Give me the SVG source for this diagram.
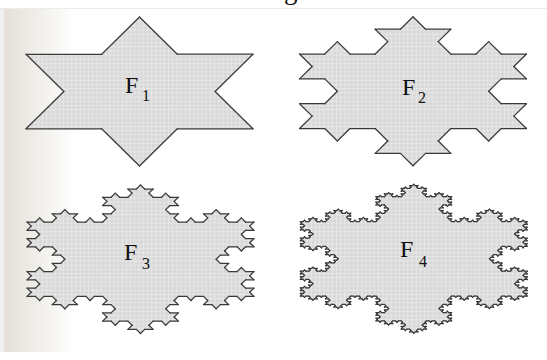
<svg xmlns="http://www.w3.org/2000/svg" xmlns:xlink="http://www.w3.org/1999/xlink" width="547" height="360" viewBox="0 0 547 360">
  <style>
    .seg { fill: none; stroke: #3a3a3a; stroke-width: 1.25; stroke-linecap: round; vector-effect: non-scaling-stroke; }
    .lbl { font-family: "Liberation Serif", "Times New Roman", serif; fill: #0e0e0e; }
    .big { font-size: 24px; }
    .sub { font-size: 16px; }
  </style>
  <defs>
    <linearGradient id="edge" x1="0" y1="0" x2="1" y2="0">
      <stop offset="0" stop-color="#e4e0d7"/>
      <stop offset="1" stop-color="#ffffff"/>
    </linearGradient>
    <pattern id="grid" width="4.2" height="4.2" patternUnits="userSpaceOnUse">
      <rect width="4.2" height="4.2" fill="#d8d8d8"/>
      <path d="M0 0.5H4.2M0.5 0V4.2" stroke="#e7e7e7" stroke-width="1"/>
    </pattern>

    <!-- Koch curve outlines on the unit edge (0,0)-(1,0), bumps toward -y -->
    <path id="k0" class="seg" d="M0 0H1"/>
    <g id="k1">
      <use xlink:href="#k0" transform="scale(0.3333333)"/>
      <use xlink:href="#k0" transform="translate(0.3333333 0) rotate(-60) scale(0.3333333)"/>
      <use xlink:href="#k0" transform="translate(0.5 -0.2886751) rotate(60) scale(0.3333333)"/>
      <use xlink:href="#k0" transform="translate(0.6666667 0) scale(0.3333333)"/>
    </g>
    <g id="k2">
      <use xlink:href="#k1" transform="scale(0.3333333)"/>
      <use xlink:href="#k1" transform="translate(0.3333333 0) rotate(-60) scale(0.3333333)"/>
      <use xlink:href="#k1" transform="translate(0.5 -0.2886751) rotate(60) scale(0.3333333)"/>
      <use xlink:href="#k1" transform="translate(0.6666667 0) scale(0.3333333)"/>
    </g>
    <g id="k3">
      <use xlink:href="#k2" transform="scale(0.3333333)"/>
      <use xlink:href="#k2" transform="translate(0.3333333 0) rotate(-60) scale(0.3333333)"/>
      <use xlink:href="#k2" transform="translate(0.5 -0.2886751) rotate(60) scale(0.3333333)"/>
      <use xlink:href="#k2" transform="translate(0.6666667 0) scale(0.3333333)"/>
    </g>
    <g id="k4">
      <use xlink:href="#k3" transform="scale(0.3333333)"/>
      <use xlink:href="#k3" transform="translate(0.3333333 0) rotate(-60) scale(0.3333333)"/>
      <use xlink:href="#k3" transform="translate(0.5 -0.2886751) rotate(60) scale(0.3333333)"/>
      <use xlink:href="#k3" transform="translate(0.6666667 0) scale(0.3333333)"/>
    </g>

    <!-- Filled bumps added outside the unit edge; each reaches a little inward to hide seams -->
    <polygon id="b1" fill="#fff" points="0.3333333,0 0.5,-0.2886751 0.6666667,0 0.5,0.09"/>
    <g id="b2">
      <use xlink:href="#b1"/>
      <use xlink:href="#b1" transform="scale(0.3333333)"/>
      <use xlink:href="#b1" transform="translate(0.3333333 0) rotate(-60) scale(0.3333333)"/>
      <use xlink:href="#b1" transform="translate(0.5 -0.2886751) rotate(60) scale(0.3333333)"/>
      <use xlink:href="#b1" transform="translate(0.6666667 0) scale(0.3333333)"/>
    </g>
    <g id="b3">
      <use xlink:href="#b1"/>
      <use xlink:href="#b2" transform="scale(0.3333333)"/>
      <use xlink:href="#b2" transform="translate(0.3333333 0) rotate(-60) scale(0.3333333)"/>
      <use xlink:href="#b2" transform="translate(0.5 -0.2886751) rotate(60) scale(0.3333333)"/>
      <use xlink:href="#b2" transform="translate(0.6666667 0) scale(0.3333333)"/>
    </g>
    <g id="b4">
      <use xlink:href="#b1"/>
      <use xlink:href="#b3" transform="scale(0.3333333)"/>
      <use xlink:href="#b3" transform="translate(0.3333333 0) rotate(-60) scale(0.3333333)"/>
      <use xlink:href="#b3" transform="translate(0.5 -0.2886751) rotate(60) scale(0.3333333)"/>
      <use xlink:href="#b3" transform="translate(0.6666667 0) scale(0.3333333)"/>
    </g>

    <!-- Base triangle (outer points on the unit circle) and its three edges -->
    <polygon id="tri" fill="#fff" points="0,-1 0.8660254,0.5 -0.8660254,0.5"/>

    <g id="fill1"><use xlink:href="#tri"/>
      <use xlink:href="#b1" transform="translate(0 -1) rotate(60) scale(1.7320508)"/>
      <use xlink:href="#b1" transform="translate(0.8660254 0.5) rotate(180) scale(1.7320508)"/>
      <use xlink:href="#b1" transform="translate(-0.8660254 0.5) rotate(-60) scale(1.7320508)"/>
    </g>
    <g id="fill2"><use xlink:href="#tri"/>
      <use xlink:href="#b2" transform="translate(0 -1) rotate(60) scale(1.7320508)"/>
      <use xlink:href="#b2" transform="translate(0.8660254 0.5) rotate(180) scale(1.7320508)"/>
      <use xlink:href="#b2" transform="translate(-0.8660254 0.5) rotate(-60) scale(1.7320508)"/>
    </g>
    <g id="fill3"><use xlink:href="#tri"/>
      <use xlink:href="#b3" transform="translate(0 -1) rotate(60) scale(1.7320508)"/>
      <use xlink:href="#b3" transform="translate(0.8660254 0.5) rotate(180) scale(1.7320508)"/>
      <use xlink:href="#b3" transform="translate(-0.8660254 0.5) rotate(-60) scale(1.7320508)"/>
    </g>
    <g id="fill4"><use xlink:href="#tri"/>
      <use xlink:href="#b4" transform="translate(0 -1) rotate(60) scale(1.7320508)"/>
      <use xlink:href="#b4" transform="translate(0.8660254 0.5) rotate(180) scale(1.7320508)"/>
      <use xlink:href="#b4" transform="translate(-0.8660254 0.5) rotate(-60) scale(1.7320508)"/>
    </g>

    <g id="line1">
      <use xlink:href="#k1" transform="translate(0 -1) rotate(60) scale(1.7320508)"/>
      <use xlink:href="#k1" transform="translate(0.8660254 0.5) rotate(180) scale(1.7320508)"/>
      <use xlink:href="#k1" transform="translate(-0.8660254 0.5) rotate(-60) scale(1.7320508)"/>
    </g>
    <g id="line2">
      <use xlink:href="#k2" transform="translate(0 -1) rotate(60) scale(1.7320508)"/>
      <use xlink:href="#k2" transform="translate(0.8660254 0.5) rotate(180) scale(1.7320508)"/>
      <use xlink:href="#k2" transform="translate(-0.8660254 0.5) rotate(-60) scale(1.7320508)"/>
    </g>
    <g id="line3">
      <use xlink:href="#k3" transform="translate(0 -1) rotate(60) scale(1.7320508)"/>
      <use xlink:href="#k3" transform="translate(0.8660254 0.5) rotate(180) scale(1.7320508)"/>
      <use xlink:href="#k3" transform="translate(-0.8660254 0.5) rotate(-60) scale(1.7320508)"/>
    </g>
    <g id="line4">
      <use xlink:href="#k4" transform="translate(0 -1) rotate(60) scale(1.7320508)"/>
      <use xlink:href="#k4" transform="translate(0.8660254 0.5) rotate(180) scale(1.7320508)"/>
      <use xlink:href="#k4" transform="translate(-0.8660254 0.5) rotate(-60) scale(1.7320508)"/>
    </g>

    <mask id="m1" maskUnits="userSpaceOnUse" x="0" y="0" width="547" height="360"><use xlink:href="#fill1" transform="translate(139.5 91.5) scale(131 74.5)"/></mask>
    <mask id="m2" maskUnits="userSpaceOnUse" x="0" y="0" width="547" height="360"><use xlink:href="#fill2" transform="translate(413 91.3) scale(131 74.5)"/></mask>
    <mask id="m3" maskUnits="userSpaceOnUse" x="0" y="0" width="547" height="360"><use xlink:href="#fill3" transform="translate(140.5 259.2) scale(131 74.3)"/></mask>
    <mask id="m4" maskUnits="userSpaceOnUse" x="0" y="0" width="547" height="360"><use xlink:href="#fill4" transform="translate(413.8 258.8) scale(131 74.5)"/></mask>
  </defs>

  <!-- page background -->
  <rect width="547" height="360" fill="#ffffff"/>
  <rect x="0" y="8" width="547" height="1" fill="#ececec"/>
  <rect x="0" y="9" width="4" height="343" fill="#f0f0f0"/>
  <rect x="4" y="9" width="72" height="343" fill="url(#edge)"/>
  <text class="lbl" x="284" y="-1" font-size="27">g</text>

  <g id="f1">
    <rect x="0" y="0" width="547" height="360" fill="url(#grid)" mask="url(#m1)"/>
    <use xlink:href="#line1" transform="translate(139.5 91.5) scale(131 74.5)"/>
    <text class="lbl big" x="125" y="93">F</text>
    <text class="lbl sub" x="142" y="101">1</text>
  </g>

  <g id="f2">
    <rect x="0" y="0" width="547" height="360" fill="url(#grid)" mask="url(#m2)"/>
    <use xlink:href="#line2" transform="translate(413 91.3) scale(131 74.5)"/>
    <text class="lbl big" x="402" y="95">F</text>
    <text class="lbl sub" x="418" y="103">2</text>
  </g>

  <g id="f3">
    <rect x="0" y="0" width="547" height="360" fill="url(#grid)" mask="url(#m3)"/>
    <use xlink:href="#line3" transform="translate(140.5 259.2) scale(131 74.3)"/>
    <text class="lbl big" x="124" y="260">F</text>
    <text class="lbl sub" x="142" y="269">3</text>
  </g>

  <g id="f4">
    <rect x="0" y="0" width="547" height="360" fill="url(#grid)" mask="url(#m4)"/>
    <use xlink:href="#line4" transform="translate(413.8 258.8) scale(131 74.5)"/>
    <text class="lbl big" x="400" y="257">F</text>
    <text class="lbl sub" x="419" y="267">4</text>
  </g>
</svg>
